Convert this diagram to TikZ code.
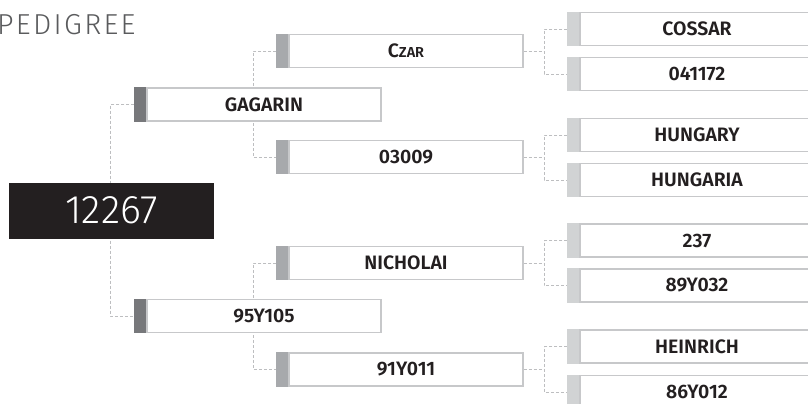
\documentclass[tikz,border=0pt]{standalone}
\usepackage{fontspec}
\setmainfont{Fira Sans}[UprightFont=* SemiBold]
\newfontfamily\titlefont{Fira Sans Light}[LetterSpace=8]
\newfontfamily\rootfont{Fira Sans Light}
\usetikzlibrary{positioning,backgrounds}
\definecolor{inkdark}{HTML}{231F20}
\definecolor{titlegray}{HTML}{5A5B5D}
\definecolor{tabdark}{HTML}{77787B}
\definecolor{tabmid}{HTML}{A7A9AC}
\definecolor{tablight}{HTML}{D1D3D4}
\definecolor{boxline}{HTML}{C7C8CA}
\definecolor{linkgray}{HTML}{BDBEC0}
\tikzset{
  box/.style={draw=boxline,line width=1.2bp,fill=white,minimum width=234bp,
    minimum height=33bp,inner sep=0pt,text=inkdark,font=\fontsize{19.5}{21}\selectfont},
  tab/.style={inner sep=0pt,minimum width=12bp,minimum height=34.2bp,outer sep=0pt},
  link/.style={draw=linkgray,line width=1bp,dash pattern=on 3bp off 2bp},
}
\begin{document}
\begin{tikzpicture}[x=1bp,y=-1bp]
\useasboundingbox (0,0) rectangle (808,403);
%%
\node (title) at (-3,34) [anchor=base west,text=titlegray,inner sep=0pt,font=\titlefont\fontsize{29}{30}\selectfont] {PEDIGREE};
\node (root) at (111.5,210.5) [fill=inkdark,text=white,minimum width=205bp,minimum height=56bp,inner sep=0pt,font=\rootfont\fontsize{40}{42}\selectfont] {12267};
%
\node (gagarin) at (264,104.5) [box] {GAGARIN};
  \node (gagarin tab) [tab,fill=tabdark,left=0bp of gagarin] {};
\node (n95y105) at (264,316) [box] {95Y105};
  \node (n95y105 tab) [tab,fill=tabdark,left=0bp of n95y105] {};
%
\node (czar) at (406,51) [box] {C{\fontsize{14.5}{15}\selectfont ZAR}};
  \node (czar tab) [tab,fill=tabmid,left=0bp of czar] {};
\node (n03009) at (406,157) [box] {03009};
  \node (n03009 tab) [tab,fill=tabmid,left=0bp of n03009] {};
\node (nicholai) at (406,263) [box] {NICHOLAI};
  \node (nicholai tab) [tab,fill=tabmid,left=0bp of nicholai] {};
\node (n91y011) at (406,369.5) [box] {91Y011};
  \node (n91y011 tab) [tab,fill=tabmid,left=0bp of n91y011] {};
%
\node (cossar) at (697,29) [box] {COSSAR};
  \node (cossar tab) [tab,fill=tablight,left=0bp of cossar] {};
\node (n041172) at (697,74) [box] {041172};
  \node (n041172 tab) [tab,fill=tablight,left=0bp of n041172] {};
\node (hungary) at (697,135) [box] {HUNGARY};
  \node (hungary tab) [tab,fill=tablight,left=0bp of hungary] {};
\node (hungaria) at (697,180) [box] {HUNGARIA};
  \node (hungaria tab) [tab,fill=tablight,left=0bp of hungaria] {};
\node (n237) at (697,240.5) [box] {237};
  \node (n237 tab) [tab,fill=tablight,left=0bp of n237] {};
\node (n89y032) at (697,285.5) [box] {89Y032};
  \node (n89y032 tab) [tab,fill=tablight,left=0bp of n89y032] {};
\node (heinrich) at (697,346.5) [box] {HEINRICH};
  \node (heinrich tab) [tab,fill=tablight,left=0bp of heinrich] {};
\node (n86y012) at (697,392) [box] {86Y012};
  \node (n86y012 tab) [tab,fill=tablight,left=0bp of n86y012] {};
%
\begin{scope}[on background layer]
  \draw [link] (gagarin tab.west) -- ++(-24,0) |- (n95y105 tab.west);
  \draw [link] (czar tab.west) -- ++(-23,0) |- (n03009 tab.west);
  \draw [link] (nicholai tab.west) -- ++(-23,0) |- (n91y011 tab.west);
  \draw [link] (cossar tab.west) -- ++(-23,0) |- (n041172 tab.west);
  \draw [link] (hungary tab.west) -- ++(-23,0) |- (hungaria tab.west);
  \draw [link] (n237 tab.west) -- ++(-23,0) |- (n89y032 tab.west);
  \draw [link] (heinrich tab.west) -- ++(-23,0) |- (n86y012 tab.west);
  \draw [link] (czar.east) -- ([xshift=-23bp]cossar tab.west |- czar.east);
  \draw [link] (n03009.east) -- ([xshift=-23bp]hungary tab.west |- n03009.east);
  \draw [link] (nicholai.east) -- ([xshift=-23bp]n237 tab.west |- nicholai.east);
  \draw [link] (n91y011.east) -- ([xshift=-23bp]heinrich tab.west |- n91y011.east);
\end{scope}
%
\end{tikzpicture}
\end{document}
